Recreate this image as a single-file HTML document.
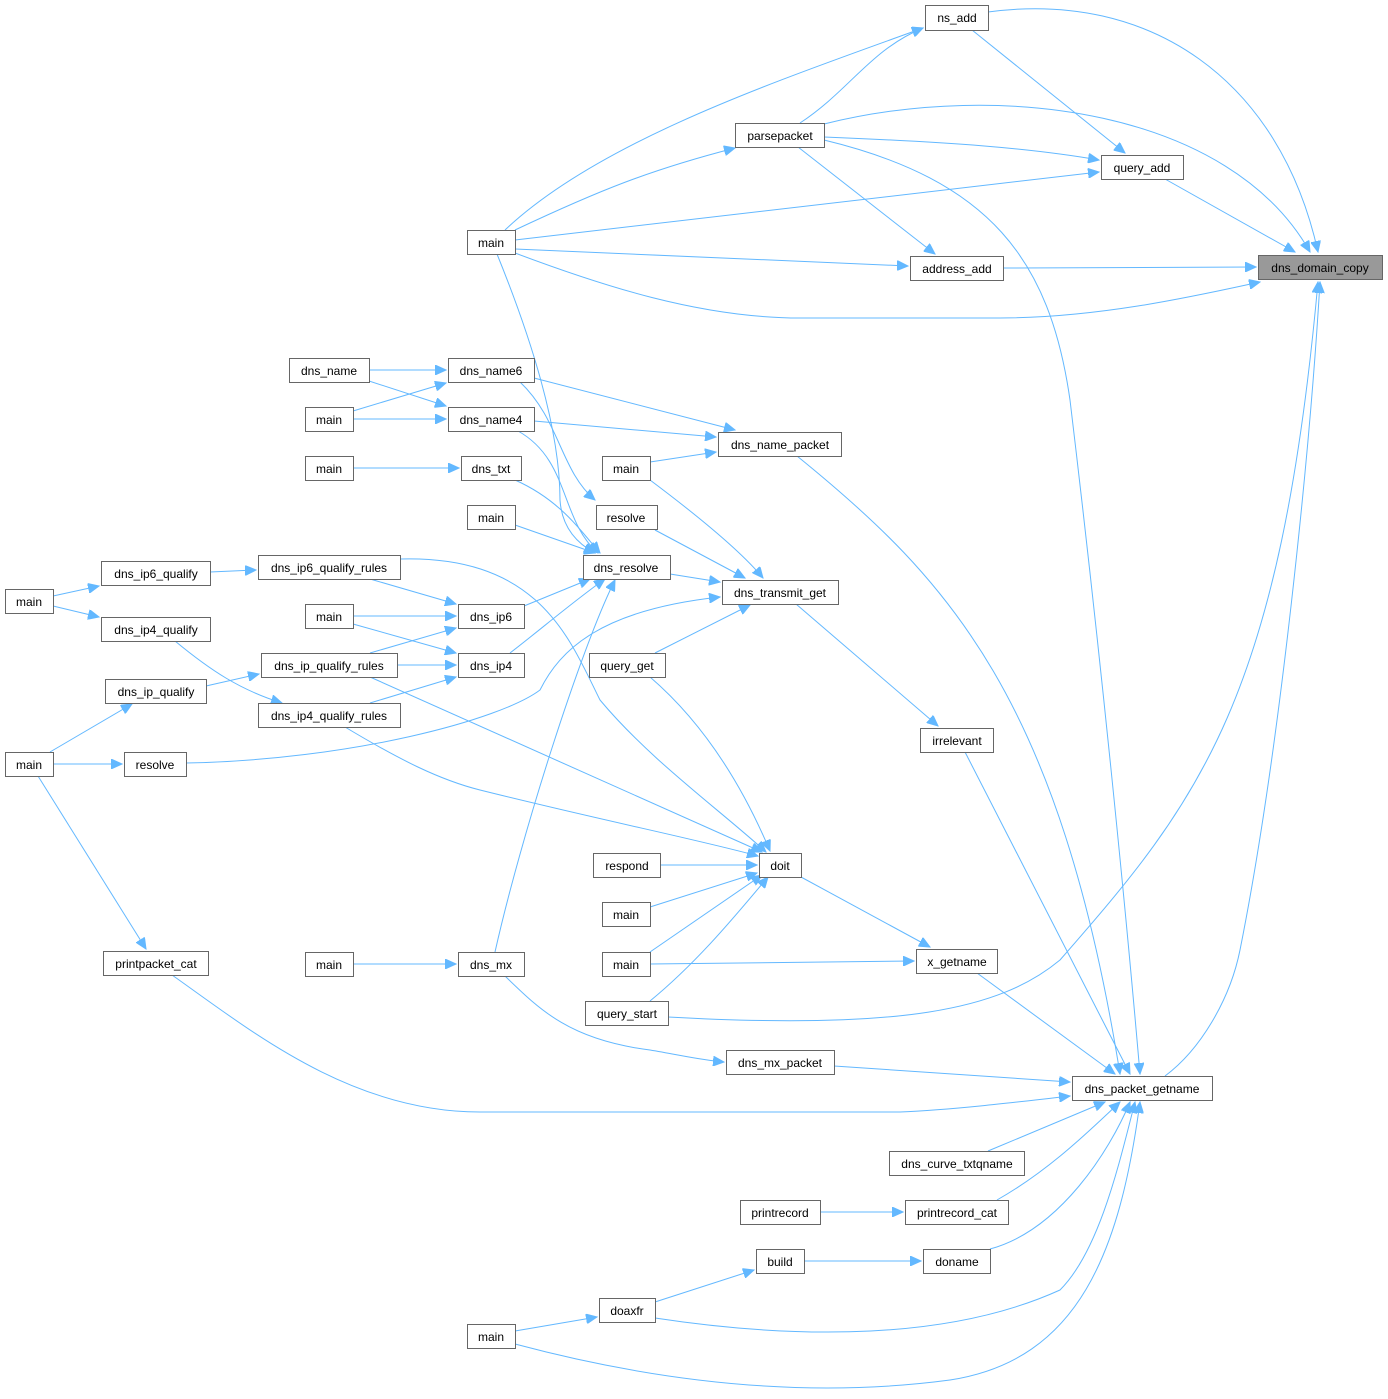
<!DOCTYPE html>
<html><head><meta charset="utf-8"><style>
html,body{margin:0;padding:0;background:#fff}
svg{display:block}
.n rect{fill:#fff;stroke:#666;stroke-width:1}
.n text{font-family:"Liberation Sans",Arial,sans-serif;font-size:12px;fill:#000;text-anchor:middle}
.e path{fill:none;stroke:#63b8ff;stroke-width:1;marker-end:url(#a)}
</style></head><body>
<svg width="1388" height="1399" viewBox="0 0 1388 1399" xmlns="http://www.w3.org/2000/svg">
<defs><marker id="a" markerUnits="userSpaceOnUse" markerWidth="12" markerHeight="10" refX="11" refY="5" orient="auto"><path d="M0,0 L11,5 L0,10 z" fill="#63b8ff" stroke="#63b8ff"/></marker></defs>
<g class="e">
<path d="M988,12 C1150,-10 1280,80 1318,252"/>
<path d="M824,124 C1000,80 1230,110 1310,252"/>
<path d="M1165,179 L1295,252"/>
<path d="M1003,268 L1256,267"/>
<path d="M515,253 C600,285 700,318 800,318 L1000,318 C1100,318 1200,295 1260,282"/>
<path d="M668,1017 C900,1030 1000,1010 1060,960 C1200,800 1280,700 1318,282"/>
<path d="M1165,1076 C1200,1050 1230,1000 1240,950 C1280,750 1310,450 1320,282"/>
<path d="M800,123 C850,90 870,50 923,28"/>
<path d="M505,230 C600,140 780,80 923,28"/>
<path d="M515,230 C600,190 650,170 735,148"/>
<path d="M972,30 L1125,153"/>
<path d="M824,137 C950,142 1030,148 1099,160"/>
<path d="M515,240 L1099,172"/>
<path d="M798,147 L935,254"/>
<path d="M515,249 L908,266"/>
<path d="M824,140 C990,180 1050,260 1070,400 C1100,650 1125,900 1140,1074"/>
<path d="M369,370 L446,370"/>
<path d="M369,381 L446,406"/>
<path d="M353,411 L446,383"/>
<path d="M353,419 L446,419"/>
<path d="M353,468 L459,468"/>
<path d="M497,254 C540,360 560,440 560,500 C562,530 580,545 595,553"/>
<path d="M534,378 L735,430"/>
<path d="M534,421 L716,437"/>
<path d="M520,382 C560,420 560,470 595,500"/>
<path d="M518,431 C570,460 560,520 598,553"/>
<path d="M515,480 C560,500 580,530 600,553"/>
<path d="M515,525 L595,553"/>
<path d="M797,456 C950,580 1060,700 1120,1074"/>
<path d="M650,462 L716,452"/>
<path d="M650,480 C690,510 740,550 763,578"/>
<path d="M655,530 L745,578"/>
<path d="M670,574 L720,582"/>
<path d="M400,559 C540,555 570,640 600,700 C650,760 720,810 766,852"/>
<path d="M210,572 L256,570"/>
<path d="M53,596 L99,586"/>
<path d="M53,606 L99,617"/>
<path d="M370,579 L456,604"/>
<path d="M353,616 L456,616"/>
<path d="M353,624 L456,653"/>
<path d="M370,653 L456,628"/>
<path d="M397,665 L456,665"/>
<path d="M370,703 L456,677"/>
<path d="M524,606 L590,579"/>
<path d="M510,653 C540,630 575,600 605,579"/>
<path d="M495,952 C520,840 580,650 615,580"/>
<path d="M175,641 C210,670 240,690 282,703"/>
<path d="M206,686 L259,674"/>
<path d="M50,752 L132,704"/>
<path d="M53,764 L122,764"/>
<path d="M38,776 L146,949"/>
<path d="M186,763 C350,760 500,720 540,690 C560,650 600,610 720,597"/>
<path d="M655,653 L750,605"/>
<path d="M796,604 L938,726"/>
<path d="M965,752 L1130,1074"/>
<path d="M650,677 C700,720 740,780 770,851"/>
<path d="M370,677 L762,852"/>
<path d="M345,727 C400,760 440,780 480,790 C600,820 700,840 758,856"/>
<path d="M660,865 L757,865"/>
<path d="M650,907 L757,873"/>
<path d="M650,952 L762,875"/>
<path d="M650,1001 C700,960 740,910 768,877"/>
<path d="M801,877 L930,947"/>
<path d="M650,964 L914,961"/>
<path d="M977,973 L1115,1074"/>
<path d="M353,964 L456,964"/>
<path d="M505,976 C540,1010 570,1040 650,1050 C680,1055 700,1060 724,1062"/>
<path d="M834,1066 L1070,1082"/>
<path d="M172,975 C250,1030 350,1112 480,1112 L900,1112 C950,1110 1010,1103 1070,1096"/>
<path d="M988,1151 L1105,1102"/>
<path d="M820,1212 L903,1212"/>
<path d="M997,1200 C1050,1170 1090,1130 1120,1102"/>
<path d="M990,1249 C1060,1230 1110,1150 1130,1102"/>
<path d="M804,1261 L921,1261"/>
<path d="M655,1302 L754,1270"/>
<path d="M655,1318 C800,1340 950,1340 1060,1290 C1100,1250 1120,1160 1135,1102"/>
<path d="M515,1331 L597,1317"/>
<path d="M515,1344 C650,1380 800,1400 950,1380 C1080,1360 1120,1250 1140,1102"/>
</g>
<g class="n">
<rect x="1258.5" y="255.5" width="124" height="24" style="fill:#999"/><text x="1320" y="272">dns_domain_copy</text>
<rect x="925.5" y="5.5" width="63" height="25"/><text x="957" y="22">ns_add</text>
<rect x="735.5" y="123.5" width="89" height="24"/><text x="780" y="140">parsepacket</text>
<rect x="1101.5" y="155.5" width="82" height="24"/><text x="1142" y="172">query_add</text>
<rect x="467.5" y="230.5" width="48" height="24"/><text x="491" y="247">main</text>
<rect x="910.5" y="256.5" width="93" height="24"/><text x="957" y="273">address_add</text>
<rect x="289.5" y="358.5" width="80" height="24"/><text x="329" y="375">dns_name</text>
<rect x="448.5" y="358.5" width="86" height="24"/><text x="491" y="375">dns_name6</text>
<rect x="305.5" y="407.5" width="48" height="24"/><text x="329" y="424">main</text>
<rect x="448.5" y="407.5" width="86" height="24"/><text x="491" y="424">dns_name4</text>
<rect x="718.5" y="432.5" width="123" height="24"/><text x="780" y="449">dns_name_packet</text>
<rect x="305.5" y="456.5" width="48" height="24"/><text x="329" y="473">main</text>
<rect x="461.5" y="456.5" width="60" height="24"/><text x="491" y="473">dns_txt</text>
<rect x="602.5" y="456.5" width="48" height="24"/><text x="626" y="473">main</text>
<rect x="467.5" y="505.5" width="48" height="24"/><text x="491" y="522">main</text>
<rect x="596.5" y="505.5" width="61" height="24"/><text x="626" y="522">resolve</text>
<rect x="101.5" y="561.5" width="109" height="24"/><text x="156" y="578">dns_ip6_qualify</text>
<rect x="258.5" y="555.5" width="142" height="24"/><text x="329" y="572">dns_ip6_qualify_rules</text>
<rect x="583.5" y="555.5" width="87" height="24"/><text x="626" y="572">dns_resolve</text>
<rect x="722.5" y="580.5" width="116" height="24"/><text x="780" y="597">dns_transmit_get</text>
<rect x="5.5" y="589.5" width="48" height="24"/><text x="29" y="606">main</text>
<rect x="305.5" y="604.5" width="48" height="24"/><text x="329" y="621">main</text>
<rect x="458.5" y="604.5" width="66" height="24"/><text x="491" y="621">dns_ip6</text>
<rect x="101.5" y="617.5" width="109" height="24"/><text x="156" y="634">dns_ip4_qualify</text>
<rect x="261.5" y="653.5" width="136" height="24"/><text x="329" y="670">dns_ip_qualify_rules</text>
<rect x="458.5" y="653.5" width="66" height="24"/><text x="491" y="670">dns_ip4</text>
<rect x="589.5" y="653.5" width="76" height="24"/><text x="627" y="670">query_get</text>
<rect x="105.5" y="679.5" width="101" height="24"/><text x="156" y="696">dns_ip_qualify</text>
<rect x="258.5" y="703.5" width="142" height="24"/><text x="329" y="720">dns_ip4_qualify_rules</text>
<rect x="920.5" y="728.5" width="73" height="24"/><text x="957" y="745">irrelevant</text>
<rect x="5.5" y="752.5" width="48" height="24"/><text x="29" y="769">main</text>
<rect x="124.5" y="752.5" width="62" height="24"/><text x="155" y="769">resolve</text>
<rect x="593.5" y="853.5" width="67" height="24"/><text x="627" y="870">respond</text>
<rect x="759.5" y="853.5" width="42" height="24"/><text x="780" y="870">doit</text>
<rect x="602.5" y="902.5" width="48" height="24"/><text x="626" y="919">main</text>
<rect x="103.5" y="951.5" width="105" height="24"/><text x="156" y="968">printpacket_cat</text>
<rect x="305.5" y="952.5" width="48" height="24"/><text x="329" y="969">main</text>
<rect x="458.5" y="952.5" width="66" height="24"/><text x="491" y="969">dns_mx</text>
<rect x="602.5" y="952.5" width="48" height="24"/><text x="626" y="969">main</text>
<rect x="916.5" y="949.5" width="81" height="24"/><text x="957" y="966">x_getname</text>
<rect x="585.5" y="1001.5" width="83" height="24"/><text x="627" y="1018">query_start</text>
<rect x="726.5" y="1050.5" width="108" height="24"/><text x="780" y="1067">dns_mx_packet</text>
<rect x="1072.5" y="1076.5" width="140" height="24"/><text x="1142" y="1093">dns_packet_getname</text>
<rect x="889.5" y="1151.5" width="135" height="24"/><text x="957" y="1168">dns_curve_txtqname</text>
<rect x="740.5" y="1200.5" width="80" height="24"/><text x="780" y="1217">printrecord</text>
<rect x="905.5" y="1200.5" width="103" height="24"/><text x="957" y="1217">printrecord_cat</text>
<rect x="756.5" y="1249.5" width="48" height="24"/><text x="780" y="1266">build</text>
<rect x="923.5" y="1249.5" width="67" height="24"/><text x="957" y="1266">doname</text>
<rect x="599.5" y="1298.5" width="56" height="24"/><text x="627" y="1315">doaxfr</text>
<rect x="467.5" y="1324.5" width="48" height="24"/><text x="491" y="1341">main</text>
</g>
</svg>
</body></html>
